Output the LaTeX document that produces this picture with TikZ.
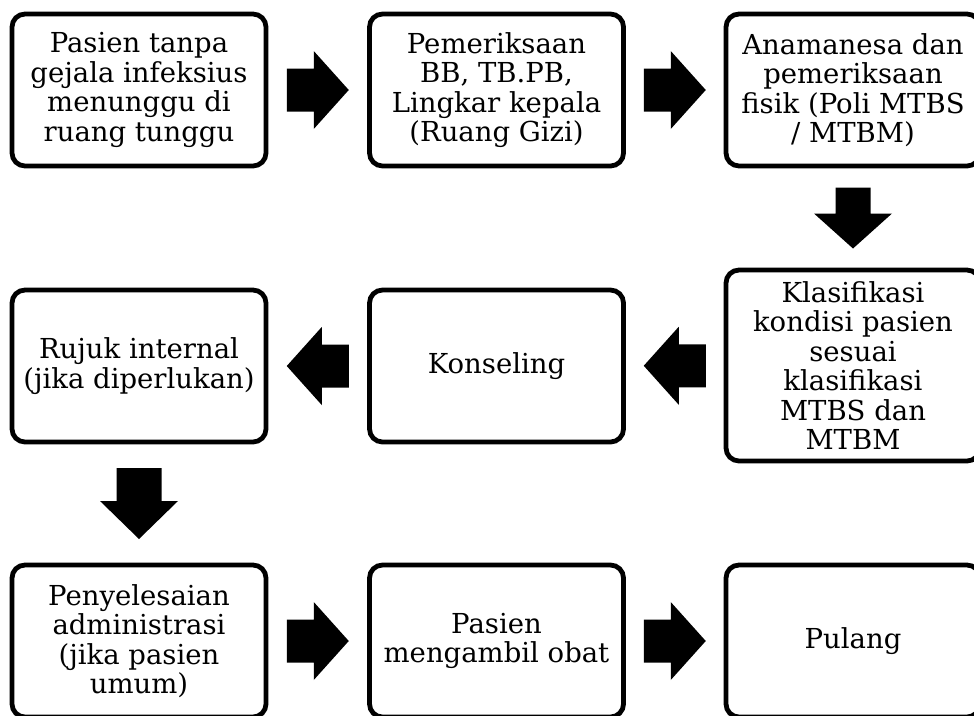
\documentclass[tikz,border=0pt]{standalone}
\usepackage{fontspec}
\setmainfont{DejaVu Serif}
\usetikzlibrary{calc}
% #1 centre, #2 rotation, #3 half length, #4 head length, #5 body half width, #6 head half width
\newcommand{\blockarrow}[6]{%
  \fill[shift={(#1)}, rotate=#2] (-#3,-#5) -- ({#3-#4},-#5) -- ({#3-#4},-#6) -- (#3,0)
     -- ({#3-#4},#6) -- ({#3-#4},#5) -- (-#3,#5) -- cycle;}
\begin{document}
\begin{tikzpicture}[x=1pt,y=-1pt,
  box/.style={draw, line width=4.8pt, rounded corners=13pt, minimum width=254pt,
    minimum height=152pt, align=center, inner sep=0pt,
    font=\fontsize{27.5}{29.4}\selectfont}]
\useasboundingbox (0,0) rectangle (974,715);
\clip (0,0) rectangle (974,715);
\fill[white] (0,0) rectangle (974,715);

\node[box] (a1) at (139,90) {Pasien tanpa\\gejala infeksius\\menunggu di\\ruang tunggu};
\node[box] (a2) at (496.5,90) {Pemeriksaan\\BB, TB.PB,\\Lingkar kepala\\(Ruang Gizi)};
\node[box] (a3) at (853,90) {Anamanesa dan\\pemeriksaan\\fisik (Poli MTBS\\/ MTBM)};

\node[box, minimum height=191pt] (b3) at (853,365.5) {Klasifikasi\\kondisi pasien\\sesuai\\klasifikasi\\MTBS dan\\MTBM};
\node[box] (b2) at (496.5,366) {Konseling};
\node[box] (b1) at (139,366) {Rujuk internal\\(jika diperlukan)};

\node[box] (c1) at (139,641) {Penyelesaian\\administrasi\\(jika pasien\\umum)};
\node[box] (c2) at (496.5,641) {Pasien\\mengambil obat};
\node[box] (c3) at (853,641) {Pulang};

\coordinate (r1) at ($(a1.east)!0.5!(a2.west)$);
\coordinate (r2) at ($(a2.east)!0.5!(a3.west)$);
\coordinate (d3) at ($(a3.south)!0.5!(b3.north)$);
\coordinate (l2) at ($(b3.west)!0.5!(b2.east)$);
\coordinate (l1) at ($(b2.west)!0.5!(b1.east)$);
\coordinate (d1) at ($(b1.south)!0.5!(c1.north)$);
\coordinate (s1) at ($(c1.east)!0.5!(c2.west)$);
\coordinate (s2) at ($(c2.east)!0.5!(c3.west)$);

\blockarrow{r1}{0}{31}{35}{21.5}{39}
\blockarrow{r2}{0}{31}{35}{21.5}{39}
\blockarrow{d3}{-90}{30.5}{35}{17.5}{39}
\blockarrow{l2}{180}{31}{35}{21.5}{39}
\blockarrow{l1}{180}{31}{35}{21.5}{39}
\blockarrow{d1}{-90}{35.5}{38}{22.5}{39}
\blockarrow{s1}{0}{31}{35}{21.5}{39}
\blockarrow{s2}{0}{31}{35}{21.5}{39}
\end{tikzpicture}
\end{document}
